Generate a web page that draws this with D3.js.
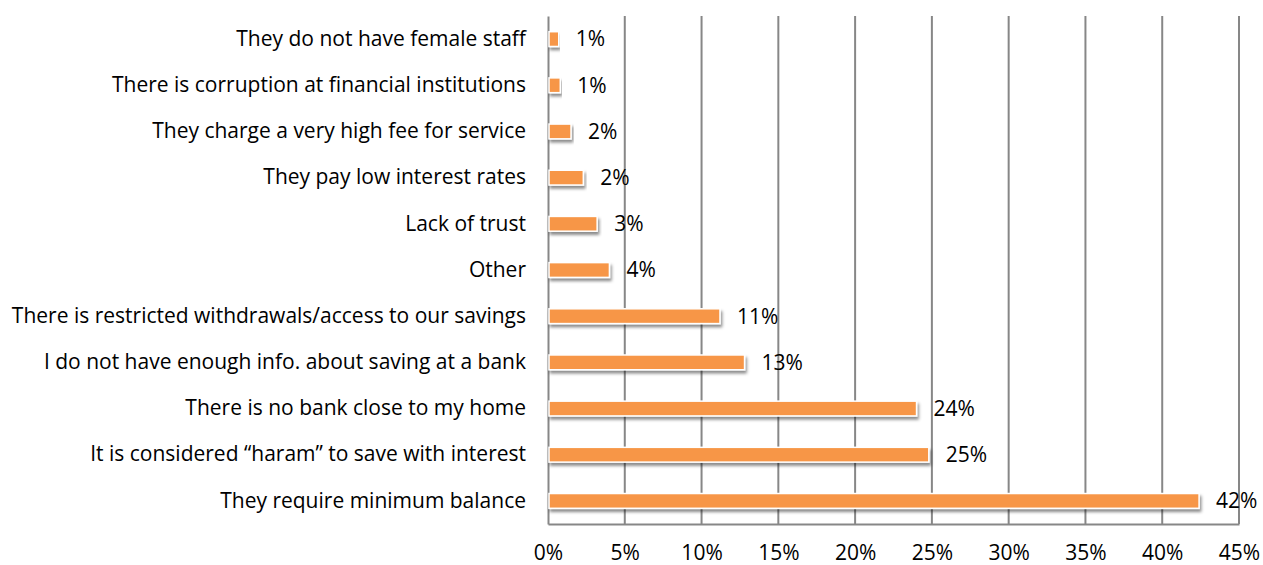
<!DOCTYPE html>
<html>
<head>
<meta charset="utf-8">
<script src="https://cdn.jsdelivr.net/npm/d3@7"></script>
<style>
  html, body { margin: 0; padding: 0; background: #fff; }
  svg { display: block; font-family: "Open Sans", Lato, sans-serif; }
</style>
</head>
<body>
<svg id="chart" width="1263" height="565"></svg>
<script>
// Reasons given for not saving at a bank (share of respondents)
const categories = [
  "They do not have female staff",
  "There is corruption at financial institutions",
  "They charge a very high fee for service",
  "They pay low interest rates",
  "Lack of trust",
  "Other",
  "There is restricted withdrawals/access to our savings",
  "I do not have enough info. about saving at a bank",
  "There is no bank close to my home",
  "It is considered \u201charam\u201d to save with interest",
  "They require minimum balance"
];
const values = [0.007, 0.008, 0.015, 0.023, 0.032, 0.040, 0.112, 0.128, 0.240, 0.248, 0.424];
const xTicks = [0, 0.05, 0.10, 0.15, 0.20, 0.25, 0.30, 0.35, 0.40, 0.45];

const FONT = "'Open Sans', Lato, sans-serif";
const FS = 21;
const svg = d3.select("#chart");
const margin = { top: 16, right: 24, bottom: 41, left: 548 };
const W = 1263, H = 565;
const innerW = W - margin.left - margin.right;
const innerH = H - margin.top - margin.bottom;

const x = d3.scaleLinear().domain([0, 0.45]).range([0, innerW]);
const y = d3.scaleBand().domain(categories).range([0, innerH]).paddingInner(0.68).paddingOuter(0.34);

const defs = svg.append("defs");
const f = defs.append("filter").attr("id", "shadow")
  .attr("x", "-5%").attr("y", "-50%").attr("width", "115%").attr("height", "220%");
f.append("feDropShadow").attr("dx", 1.5).attr("dy", 3).attr("stdDeviation", 1.8)
  .attr("flood-color", "#000").attr("flood-opacity", 0.45);

const g = svg.append("g").attr("transform", `translate(${margin.left},${margin.top})`);

// vertical gridlines
g.selectAll("line.grid").data(xTicks.slice(1)).join("line")
  .attr("class", "grid")
  .attr("x1", d => x(d)).attr("x2", d => x(d))
  .attr("y1", 0).attr("y2", innerH)
  .attr("stroke", "#878787").attr("stroke-width", 2);

// bottom axis with percent labels
const xAxis = d3.axisBottom(x).tickValues(xTicks).tickFormat(d3.format(".0%")).tickSize(0).tickPadding(21);
const ax = g.append("g").attr("transform", `translate(0,${innerH})`).call(xAxis);
ax.select(".domain").attr("stroke", "#878787").attr("stroke-width", 2);
ax.selectAll("text").attr("font-size", FS).attr("fill", "#000").attr("font-family", FONT);

// left axis with category labels
const yAxis = d3.axisLeft(y).tickSize(0).tickPadding(22);
const ay = g.append("g").call(yAxis);
ay.select(".domain").attr("stroke", "#878787").attr("stroke-width", 2);
ay.selectAll("text").attr("font-size", FS).attr("fill", "#000").attr("font-family", FONT);

// bars
g.selectAll("rect.bar").data(categories).join("rect")
  .attr("class", "bar")
  .attr("x", 1)
  .attr("y", d => y(d))
  .attr("width", (d, i) => x(values[i]) - 1)
  .attr("height", y.bandwidth())
  .attr("fill", "#F79646")
  .attr("stroke", "#fff").attr("stroke-width", 1.5)
  .attr("filter", "url(#shadow)");

// value labels
g.selectAll("text.val").data(categories).join("text")
  .attr("class", "val")
  .attr("x", (d, i) => x(values[i]) + 17)
  .attr("y", d => y(d) + y.bandwidth() / 2)
  .attr("dy", "0.35em")
  .attr("font-size", FS)
  .attr("font-family", FONT)
  .attr("fill", "#000")
  .text((d, i) => d3.format(".0%")(values[i]));
</script>
</body>
</html>
